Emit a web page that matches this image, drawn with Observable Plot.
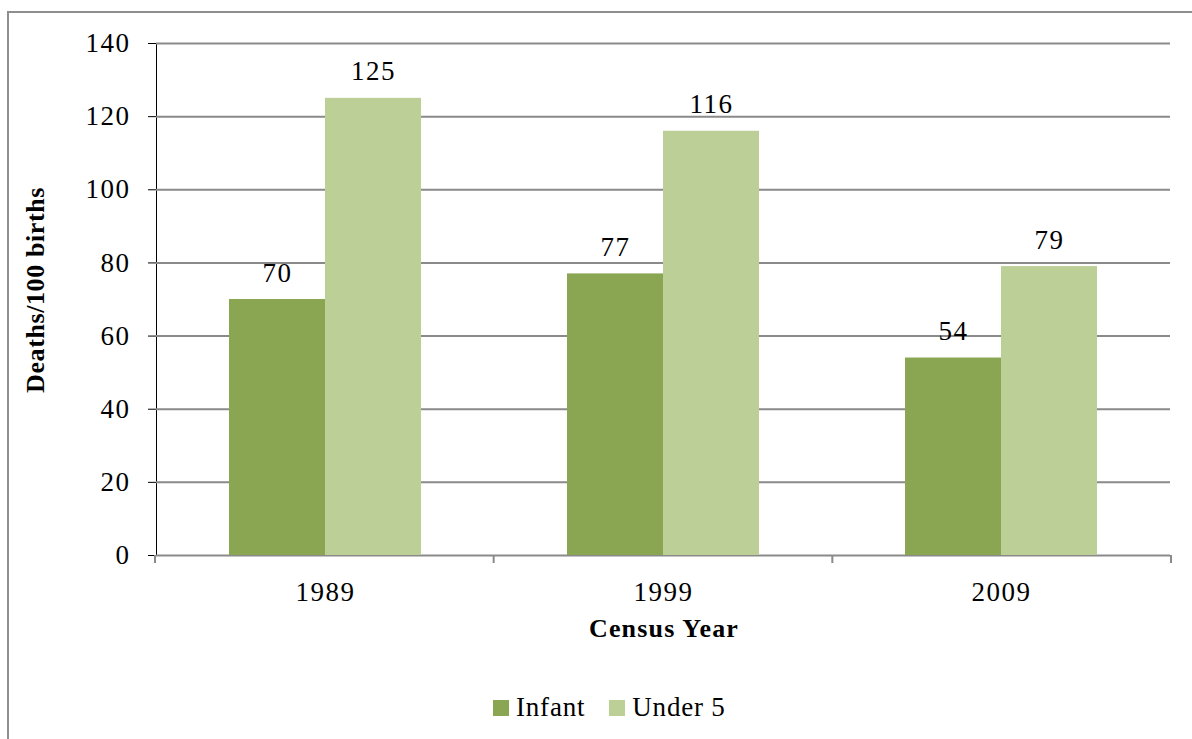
<!DOCTYPE html>
<html><head><meta charset="utf-8">
<script src="https://cdn.jsdelivr.net/npm/d3@7"></script>
<script src="https://cdn.jsdelivr.net/npm/@observablehq/plot@0.6"></script>
<style>
html,body{margin:0;padding:0;background:#fff;overflow:hidden;width:1192px;height:739px;}
#wrap{position:relative;width:1192px;height:739px;font-family:"Liberation Serif",serif;color:#000;}
#frame{position:absolute;left:7px;top:11px;width:1300px;height:900px;border-left:2px solid #8e8e8e;border-top:2px solid #8e8e8e;pointer-events:none;}
#chart{position:absolute;left:0;top:0;}
#chart svg text{font-family:"Liberation Serif",serif;font-size:27px;letter-spacing:1.5px;fill:#000;}
#chart svg g[aria-label="y-axis"] line,#chart svg g[aria-label="y-axis"] path{stroke:#8a8a8a;stroke-width:2px;stroke-opacity:1;}
.ytitle{position:absolute;left:36px;top:290px;transform:translate(-50%,-50%) rotate(-90deg);font-weight:bold;font-size:26px;white-space:nowrap;letter-spacing:0.6px;}
.xtitle{position:absolute;left:664px;top:614px;transform:translateX(-50%);font-weight:bold;font-size:26px;white-space:nowrap;letter-spacing:1.2px;}
#legend{position:absolute;left:493px;top:692px;display:flex;align-items:center;font-size:27px;letter-spacing:0.8px;white-space:nowrap;}
#legend .item{display:flex;align-items:center;margin-right:24px;}
#legend .sw{width:16px;height:16px;margin-right:7px;}
</style>
</head><body>
<div id="wrap">
  <div id="chart"></div>
  <div class="ytitle">Deaths/100 births</div>
  <div class="xtitle">Census Year</div>
  <div id="legend"></div>
  <div id="frame"></div>
</div>
<script>
const years = ["1989", "1999", "2009"];
const series = ["Infant", "Under 5"];
const infant = [70, 77, 54];
const under5 = [125, 116, 79];
const yTicks = [0, 20, 40, 60, 80, 100, 120, 140];
const colors = ["#8aa652", "#bbcf97"];

const data = years.flatMap((yr, i) => [
  {year: yr, series: series[0], value: infant[i]},
  {year: yr, series: series[1], value: under5[i]}
]);

const gridColor = "#8a8a8a";

const chart = Plot.plot({
  width: 1192,
  height: 680,
  marginTop: 43,
  marginLeft: 155,
  marginRight: 21,
  marginBottom: 125,
  style: {background: "transparent", overflow: "visible", fontFamily: '"Liberation Serif", serif', fontSize: "27px"},
  facet: {data, x: "year", marginLeft: 0, marginRight: 0},
  fx: {domain: years, padding: 0, label: null, tickSize: 0, tickPadding: 26},
  x: {domain: series, paddingInner: 0, paddingOuter: 0.75, axis: null},
  y: {domain: [0, 140], ticks: yTicks, tickSize: 8, tickPadding: 18, tickFormat: d => String(d), label: null, line: true},
  color: {domain: series, range: colors},
  marks: [
    Plot.ruleY(yTicks, {stroke: gridColor, strokeWidth: 2}),
    Plot.barY(data, {x: "series", y: "value", fill: "series"}),
    Plot.text(data, {x: "series", y: "value", text: d => String(d.value), dy: -18, lineAnchor: "bottom", fill: "#000"})
  ]
});
document.getElementById("chart").appendChild(chart);

// category boundary ticks on the x axis, placed through the fx and y scales
const fxs = chart.scale("fx");
const ys = chart.scale("y");
const band = d3.scaleBand().domain(fxs.domain).range(fxs.range).paddingInner(0).paddingOuter(0);
const y0 = ys.apply ? ys.apply(0) : d3.scaleLinear().domain(ys.domain).range(ys.range)(0);
const bounds = years.map(v => band(v)).concat([band(years[years.length - 1]) + band.bandwidth()]);
d3.select(chart).append("g").selectAll("line").data(bounds).join("line")
  .attr("x1", d => d).attr("x2", d => d)
  .attr("y1", y0).attr("y2", y0 + 8)
  .attr("stroke", gridColor).attr("stroke-width", 2);

// legend
const leg = d3.select("#legend");
series.forEach((s, i) => {
  const it = leg.append("div").attr("class", "item");
  it.append("div").attr("class", "sw").style("background", colors[i]);
  it.append("span").text(s);
});
</script>
</body></html>
